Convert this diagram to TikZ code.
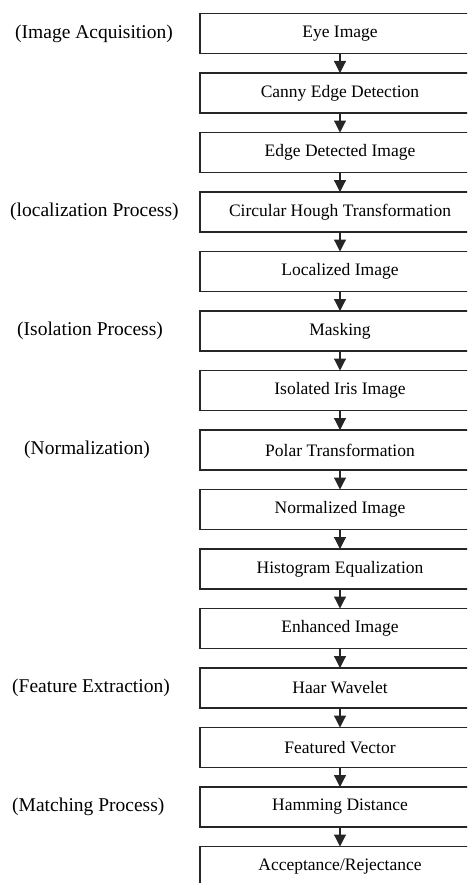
\documentclass[tikz,border=0pt]{standalone}
\usepackage{fontspec}
\setmainfont{Liberation Serif}
\usetikzlibrary{positioning,arrows.meta}
\tikzset{
	stage/.style={draw=black!85, line width=1.2pt, minimum width=280pt, minimum height=40pt,
		inner sep=0pt, outer sep=0pt, font=\fontsize{17.5}{20}\selectfont},
	phase/.style={anchor=west, inner sep=0pt, font=\fontsize{19.5}{22}\selectfont},
	flow/.style={line width=1.2pt, draw=black!85, -{Triangle[width=12pt,length=12pt]}}
	}

\begin{document}
\begin{tikzpicture}[x=1pt, y=1pt, node distance=19.5pt]

	% page
	\useasboundingbox (0,0) rectangle (467,-883);
	\clip (0,0) rectangle (467,-883);

	% stages
	\node[stage] (eye) at (340,-33.5) {Eye Image};
	\node[stage, below=of eye] (canny) {Canny Edge Detection};
	\node[stage, below=of canny] (edge) {Edge Detected Image};
	\node[stage, below=of edge] (hough) {Circular Hough Transformation};
	\node[stage, below=of hough] (local) {Localized Image};
	\node[stage, below=of local] (mask) {Masking};
	\node[stage, below=of mask] (iris) {Isolated Iris Image};
	\node[stage, below=of iris] (polar) {Polar Transformation};
	\node[stage, below=of polar] (norm) {Normalized Image};
	\node[stage, below=of norm] (histo) {Histogram Equalization};
	\node[stage, below=of histo] (enh) {Enhanced Image};
	\node[stage, below=of enh] (haar) {Haar Wavelet};
	\node[stage, below=of haar] (feat) {Featured Vector};
	\node[stage, below=of feat] (ham) {Hamming Distance};
	\node[stage, below=of ham] (accept) {Acceptance/Rejectance};

	% arrows
	\draw[flow] (eye) -- (canny);
	\draw[flow] (canny) -- (edge);
	\draw[flow] (edge) -- (hough);
	\draw[flow] (hough) -- (local);
	\draw[flow] (local) -- (mask);
	\draw[flow] (mask) -- (iris);
	\draw[flow] (iris) -- (polar);
	\draw[flow] (polar) -- (norm);
	\draw[flow] (norm) -- (histo);
	\draw[flow] (histo) -- (enh);
	\draw[flow] (enh) -- (haar);
	\draw[flow] (haar) -- (feat);
	\draw[flow] (feat) -- (ham);
	\draw[flow] (ham) -- (accept);

	% phase labels
	\node[phase] (acqlbl) at (15,0 |- eye) {(Image Acquisition)};
	\node[phase] (loclbl) at (10,0 |- hough) {(localization Process)};
	\node[phase] (isolbl) at (17,0 |- mask) {(Isolation Process)};
	\node[phase] (normlbl) at (24,0 |- polar) {(Normalization)};
	\node[phase] (featlbl) at (12,0 |- haar) {(Feature Extraction)};
	\node[phase] (matchlbl) at (12,0 |- ham) {(Matching Process)};

\end{tikzpicture}
\end{document}
